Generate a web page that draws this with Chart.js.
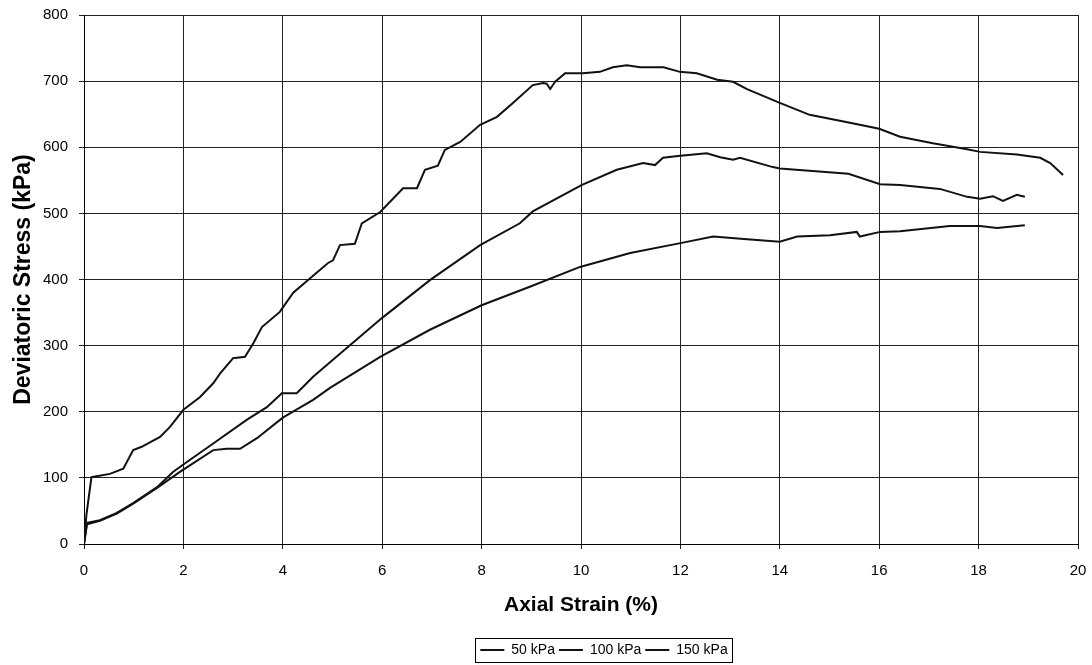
<!DOCTYPE html>
<html>
<head>
<meta charset="utf-8">
<script src="https://cdn.jsdelivr.net/npm/chart.js@4/dist/chart.umd.min.js"></script>
<style>
  body { margin: 0; background: #fff; }
  #wrap { width: 1092px; height: 665px; }
</style>
</head>
<body>
<div id="wrap"><canvas id="triaxChart" width="1092" height="665"></canvas></div>
<script>
// Axial strain (%) and deviatoric stress (kPa)
const strain50 = [0, 0.06, 0.32, 0.66, 0.99, 1.47, 1.93, 2.6, 2.87, 3.14, 3.48, 4.0, 4.61, 4.95, 5.96, 6.96, 8.0, 8.97, 9.98, 10.99, 12.0, 12.66, 13.34, 14.0, 14.35, 15.01, 15.55, 15.61, 16.02, 16.42, 17.42, 18.03, 18.37, 18.93];
const stress50 = [0, 30, 35, 46, 61, 85, 109, 142, 144, 144, 160, 191, 218, 236, 283, 324, 361, 389, 419, 440, 455, 465, 461, 457, 465, 467, 472, 465, 472, 473, 481, 481, 478, 482];

const strain100 = [0, 0.06, 0.32, 0.66, 0.99, 1.47, 1.79, 2.07, 2.6, 3.28, 3.68, 3.98, 4.28, 4.61, 4.95, 6.0, 6.96, 7.97, 8.77, 9.03, 10.02, 10.72, 11.25, 11.49, 11.65, 12.0, 12.53, 12.8, 13.06, 13.2, 13.86, 14.0, 15.38, 16.02, 16.42, 17.22, 17.77, 18.03, 18.29, 18.49, 18.77, 18.93];
const stress100 = [0, 32, 36, 47, 62, 86, 109, 124, 152, 188, 207, 228, 228, 253, 275, 342, 399, 452, 485, 503, 543, 566, 576, 573, 584, 587, 591, 585, 581, 584, 570, 568, 560, 544, 543, 537, 525, 522, 526, 519, 528, 525];

const strain150 = [0, 0.05, 0.15, 0.52, 0.79, 0.99, 1.16, 1.53, 1.73, 2.0, 2.33, 2.6, 2.74, 3.0, 3.24, 3.41, 3.58, 3.94, 4.21, 4.55, 4.91, 5.01, 5.15, 5.45, 5.59, 5.96, 6.42, 6.7, 6.86, 7.12, 7.26, 7.57, 7.97, 8.31, 8.63, 9.03, 9.24, 9.31, 9.38, 9.48, 9.68, 10.04, 10.38, 10.64, 10.92, 11.19, 11.66, 11.99, 12.33, 12.74, 13.06, 13.34, 14.0, 14.6, 15.41, 16.0, 16.42, 17.08, 17.77, 18.03, 18.77, 19.24, 19.44, 19.7];
const stress150 = [0, 45, 101, 106, 114, 142, 147, 162, 177, 203, 222, 243, 258, 281, 283, 304, 328, 351, 380, 402, 425, 429, 452, 454, 485, 502, 538, 538, 566, 572, 596, 608, 634, 646, 667, 694, 697, 696, 688, 699, 712, 712, 714, 721, 724, 721, 721, 714, 712, 702, 699, 688, 667, 649, 637, 628, 616, 606, 597, 593, 589, 584, 576, 558];

const seriesLabels = ['50 kPa', '100 kPa', '150 kPa'];

function toPoints(xs, ys) {
    return xs.map((x, i) => ({ x: x, y: ys[i] }));
}

const fontFamily = '"Liberation Sans", Arial, sans-serif';

// draws the frame round the legend and nudges it like the original
const legendBox = {
    id: 'legendBox',
    afterLayout(chart) {
        const lg = chart.legend;
        lg.left += 23;
        lg.right += 23;
        lg.top += 4;
        lg.bottom += 4;
    },
    afterDraw(chart) {
        const boxes = chart.legend.legendHitBoxes;
        if (!boxes || !boxes.length) return;
        let l = Infinity, r = -Infinity, t = Infinity, b = -Infinity;
        boxes.forEach(h => {
            l = Math.min(l, h.left);
            r = Math.max(r, h.left + h.width);
            t = Math.min(t, h.top);
            b = Math.max(b, h.top + h.height);
        });
        const ctx = chart.ctx;
        ctx.save();
        ctx.strokeStyle = '#000';
        ctx.lineWidth = 1;
        ctx.strokeRect(Math.round(l - 5) + 0.5, Math.round(t - 5) + 0.5, Math.round(r - l + 10), Math.round(b - t + 10));
        ctx.restore();
    }
};

const ctx = document.getElementById('triaxChart').getContext('2d');
new Chart(ctx, {
    type: 'scatter',
    data: {
        datasets: [
            { label: seriesLabels[0], data: toPoints(strain50, stress50) },
            { label: seriesLabels[1], data: toPoints(strain100, stress100) },
            { label: seriesLabels[2], data: toPoints(strain150, stress150) }
        ].map(d => Object.assign(d, {
            showLine: true,
            borderColor: '#111',
            backgroundColor: '#111',
            borderWidth: 2,
            pointRadius: 0,
            tension: 0
        }))
    },
    options: {
        responsive: false,
        animation: false,
        devicePixelRatio: 1,
        layout: { padding: { left: 0, right: 14, top: 15, bottom: 2 } },
        plugins: {
            legend: {
                position: 'bottom',
                fullSize: false,
                labels: {
                    color: '#000',
                    font: { family: fontFamily, size: 14 },
                    usePointStyle: true,
                    pointStyle: 'line',
                    pointStyleWidth: 24,
                    boxHeight: 14,
                    padding: 4
                }
            },
            tooltip: { enabled: false }
        },
        scales: {
            x: {
                type: 'linear',
                min: 0,
                max: 20,
                afterFit: s => { s.height = 91; s.paddingLeft = 0; s.paddingRight = 0; },
                ticks: {
                    stepSize: 2,
                    color: '#000',
                    padding: 13,
                    font: { family: fontFamily, size: 15 }
                },
                grid: { color: '#222', lineWidth: 1, tickLength: 5 },
                border: { color: '#000', width: 1 },
                title: {
                    display: true,
                    text: 'Axial Strain (%)',
                    color: '#000',
                    padding: { top: 0, bottom: 17 },
                    font: { family: fontFamily, size: 21, weight: 'bold' }
                }
            },
            y: {
                min: 0,
                max: 800,
                afterFit: s => { s.width = 84; s.paddingTop = 0; s.paddingBottom = 0; },
                ticks: {
                    stepSize: 100,
                    color: '#000',
                    padding: 11,
                    font: { family: fontFamily, size: 15 }
                },
                grid: { color: '#222', lineWidth: 1, tickLength: 5 },
                border: { color: '#000', width: 1 },
                title: {
                    display: true,
                    text: 'Deviatoric Stress (kPa)',
                    color: '#000',
                    padding: { top: 10, bottom: 0 },
                    font: { family: fontFamily, size: 23, weight: 'bold' }
                }
            }
        }
    },
    plugins: [legendBox]
});
</script>
</body>
</html>
